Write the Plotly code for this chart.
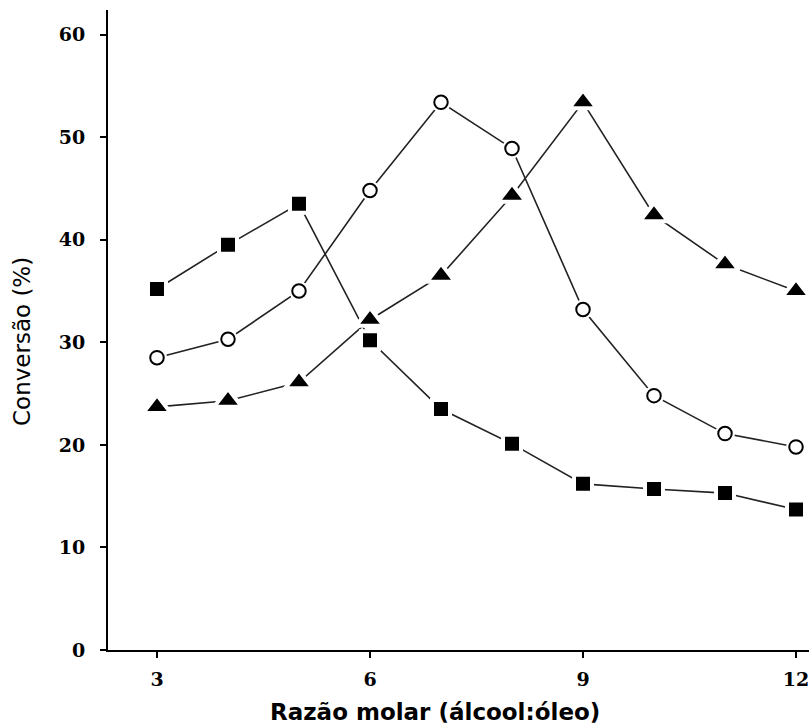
import plotly.graph_objects as go

razao = [3, 4, 5, 6, 7, 8, 9, 10, 11, 12]
quadrados = [35.2, 39.5, 43.5, 30.2, 23.5, 20.1, 16.2, 15.7, 15.3, 13.7]
circulos = [28.5, 30.3, 35.0, 44.8, 53.4, 48.9, 33.2, 24.8, 21.1, 19.8]
triangulos = [23.7, 24.3, 26.1, 32.2, 36.5, 44.3, 53.4, 42.4, 37.6, 35.0]

x_ticks = [3, 6, 9, 12]
y_ticks = [0, 10, 20, 30, 40, 50, 60]

line_col = "#222222"
fig = go.Figure()

for ys in (quadrados, circulos, triangulos):
    fig.add_trace(go.Scatter(x=razao, y=ys, mode="lines",
                             line=dict(color=line_col, width=1.6),
                             hoverinfo="skip", showlegend=False))

fig.add_trace(go.Scatter(x=razao, y=quadrados, mode="markers",
                         marker=dict(symbol="square", size=18, color="black",
                                     line=dict(color="white", width=4)),
                         showlegend=False))
fig.add_trace(go.Scatter(x=razao, y=triangulos, mode="markers",
                         marker=dict(symbol="triangle-up", size=24, color="black",
                                     line=dict(color="white", width=4)),
                         showlegend=False))
fig.add_trace(go.Scatter(x=razao, y=circulos, mode="markers",
                         marker=dict(symbol="circle", size=20, color="white",
                                     line=dict(width=0)),
                         showlegend=False))
fig.add_trace(go.Scatter(x=razao, y=circulos, mode="markers",
                         marker=dict(symbol="circle", size=13.5, color="white",
                                     line=dict(color="black", width=2)),
                         showlegend=False))

tick_font = dict(family="DejaVu Serif", size=19, color="black")
fig.update_layout(
    width=809, height=727,
    margin=dict(l=108, r=0, t=10, b=77),
    paper_bgcolor="white", plot_bgcolor="white",
    xaxis=dict(range=[2.31, 12.183], tickvals=x_ticks,
               ticktext=["<b>%d</b>" % v for v in x_ticks], ticks="outside",
               ticklen=6, tickwidth=2, tickcolor="black",
               showline=True, linecolor="black", linewidth=2,
               showgrid=False, zeroline=False, ticklabelstandoff=5,
               ticklabeloverflow="allow",
               tickfont=tick_font),
    yaxis=dict(range=[0, 62.4], tickvals=y_ticks,
               ticktext=["<b>%d</b>" % v for v in y_ticks], ticks="outside",
               ticklen=6, tickwidth=2, tickcolor="black",
               showline=True, linecolor="black", linewidth=2,
               showgrid=False, zeroline=False, ticklabelstandoff=11,
               ticklabeloverflow="allow",
               tickfont=tick_font),
    annotations=[
        dict(text="<b>Razão molar (álcool:óleo)</b>",
             xref="paper", yref="paper", showarrow=False,
             font=dict(family="DejaVu Sans", size=23, color="black")),
        dict(text="Conversão (%)", xref="paper", yref="paper",
             showarrow=False, textangle=-90,
             font=dict(family="DejaVu Sans", size=23, color="black")),
    ],
)
W, H = 809, 727
l, r, t, b = 108, 0, 10, 77
pw, ph = W - l - r, H - t - b
def px2paper(px, py):
    return (px - l) / pw, (H - b - py) / ph
ax, ay = px2paper(435, 712)
fig.layout.annotations[0].update(x=ax, y=ay, xanchor="center", yanchor="middle")
cx, cy = px2paper(22, 342)
fig.layout.annotations[1].update(x=cx, y=cy, xanchor="center", yanchor="middle")

fig.write_html("out.html")
